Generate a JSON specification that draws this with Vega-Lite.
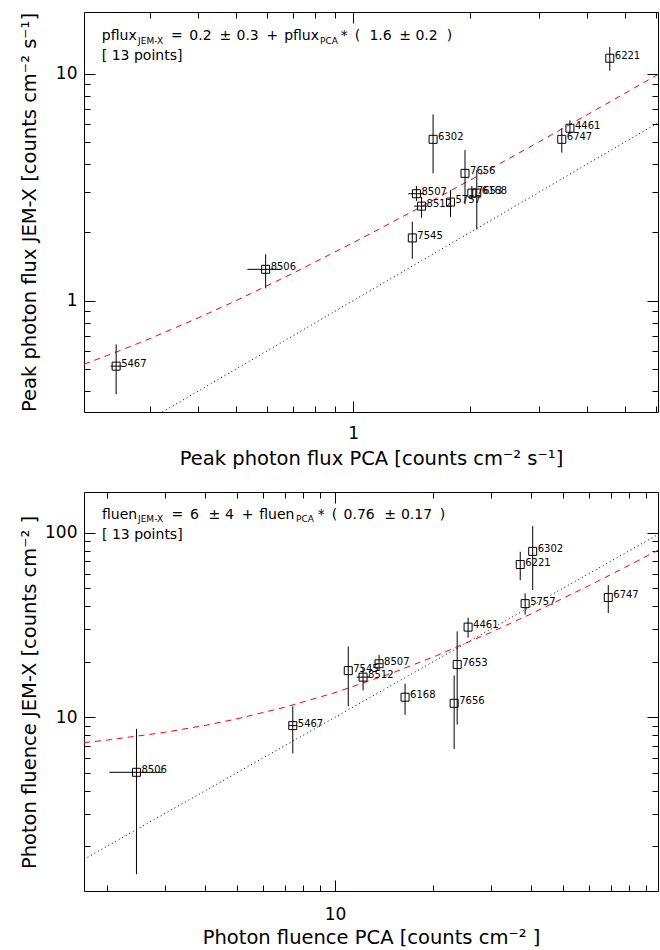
{
  "$schema": "https://vega.github.io/schema/vega-lite/v6.json",
  "background": "white",
  "padding": {"left": 18, "top": 11, "right": 0, "bottom": 0},
  "bounds": "flush",
  "spacing": 80,
  "config": {
    "view": {"stroke": "black", "strokeWidth": 1},
    "font": "DejaVu Sans",
    "axis": {
      "domain": false, "grid": false, "labelOverlap": false, "labelFlush": false,
      "tickColor": "black", "tickWidth": 1, "labelColor": "black", "titleColor": "black",
      "labelFont": "DejaVu Sans", "titleFont": "DejaVu Sans", "labelFontSize": 17,
      "titleFontSize": 19.5, "titleFontWeight": "normal"
    }
  },
  "datasets": {
    "pflux": [
      {"obs": "5467", "x": 0.246, "y": 0.515, "xlo": 0.238, "xhi": 0.255, "ylo": 0.387, "yhi": 0.642},
      {"obs": "8506", "x": 0.596, "y": 1.375, "xlo": 0.535, "xhi": 0.652, "ylo": 1.134, "yhi": 1.6},
      {"obs": "7545", "x": 1.42, "y": 1.89, "xlo": null, "xhi": null, "ylo": 1.53, "yhi": 2.23},
      {"obs": "8507", "x": 1.455, "y": 2.96, "xlo": 1.387, "xhi": 1.522, "ylo": 2.75, "yhi": 3.2},
      {"obs": "8512", "x": 1.5, "y": 2.61, "xlo": 1.435, "xhi": 1.552, "ylo": 2.32, "yhi": 2.87},
      {"obs": "5757", "x": 1.78, "y": 2.72, "xlo": null, "xhi": null, "ylo": 2.34, "yhi": 3.07},
      {"obs": "6302", "x": 1.606, "y": 5.14, "xlo": null, "xhi": null, "ylo": 3.64, "yhi": 6.62},
      {"obs": "7656", "x": 1.94, "y": 3.64, "xlo": null, "xhi": null, "ylo": 2.66, "yhi": 4.61},
      {"obs": "7653", "x": 2.02, "y": 2.98, "xlo": null, "xhi": null, "ylo": 2.8, "yhi": 3.2},
      {"obs": "6168", "x": 2.08, "y": 2.98, "xlo": null, "xhi": null, "ylo": 2.06, "yhi": 3.76},
      {"obs": "4461", "x": 3.61, "y": 5.75, "xlo": null, "xhi": null, "ylo": 5.41, "yhi": 6.23},
      {"obs": "6747", "x": 3.44, "y": 5.14, "xlo": null, "xhi": null, "ylo": 4.49, "yhi": 5.75},
      {"obs": "6221", "x": 4.57, "y": 11.7, "xlo": null, "xhi": null, "ylo": 10.3, "yhi": 13.1}
    ],
    "pflux_fit": [
      {"x": 0.2034, "y": 0.525}, {"x": 0.25, "y": 0.6}, {"x": 0.3, "y": 0.68}, {"x": 0.4, "y": 0.84},
      {"x": 0.5, "y": 1.0}, {"x": 0.7, "y": 1.32}, {"x": 1, "y": 1.8}, {"x": 1.4, "y": 2.44},
      {"x": 2, "y": 3.4}, {"x": 3, "y": 5.0}, {"x": 4, "y": 6.6}, {"x": 5, "y": 8.2}, {"x": 6.08, "y": 9.93}
    ],
    "pflux_one": [{"x": 0.3234, "y": 0.3234}, {"x": 6.08, "y": 6.08}],
    "pflux_eq": [
      {"t": "pflux", "x": 0.226, "y": 14.66},
      {"t": "=", "x": 0.3402, "y": 14.66},
      {"t": "0.2", "x": 0.3795, "y": 14.66},
      {"t": "±", "x": 0.4534, "y": 14.66},
      {"t": "0.3", "x": 0.5016, "y": 14.66},
      {"t": "+", "x": 0.5993, "y": 14.66},
      {"t": "pflux", "x": 0.665, "y": 14.66},
      {"t": "*", "x": 0.9303, "y": 14.66},
      {"t": "(", "x": 1.0101, "y": 14.66},
      {"t": "1.6", "x": 1.1019, "y": 14.66},
      {"t": "±", "x": 1.315, "y": 14.66},
      {"t": "0.2", "x": 1.4468, "y": 14.66},
      {"t": ")", "x": 1.7402, "y": 14.66},
      {"t": "[ 13 points]", "x": 0.226, "y": 11.97}
    ],
    "pflux_sub": [
      {"t": "JEM-X", "x": 0.2801, "y": 13.93},
      {"t": "PCA", "x": 0.8227, "y": 13.93}
    ],
    "fluen": [
      {"obs": "8506", "x": 2.46, "y": 5.03, "xlo": 2.03, "xhi": 2.95, "ylo": 1.41, "yhi": 8.65},
      {"obs": "5467", "x": 7.42, "y": 9.01, "xlo": 7.22, "xhi": 7.66, "ylo": 6.37, "yhi": 11.47},
      {"obs": "7545", "x": 10.98, "y": 17.9, "xlo": null, "xhi": null, "ylo": 11.47, "yhi": 24.2},
      {"obs": "8512", "x": 12.19, "y": 16.5, "xlo": 11.65, "xhi": 12.78, "ylo": 13.97, "yhi": 18.5},
      {"obs": "8507", "x": 13.65, "y": 19.5, "xlo": 13.3, "xhi": 14.0, "ylo": 17.9, "yhi": 21.8},
      {"obs": "6168", "x": 16.4, "y": 12.84, "xlo": null, "xhi": null, "ylo": 10.3, "yhi": 15.2},
      {"obs": "7656", "x": 23.2, "y": 11.9, "xlo": null, "xhi": null, "ylo": 6.73, "yhi": 16.85},
      {"obs": "7653", "x": 23.7, "y": 19.3, "xlo": null, "xhi": null, "ylo": 9.13, "yhi": 29.2},
      {"obs": "4461", "x": 25.6, "y": 30.8, "xlo": null, "xhi": null, "ylo": 27.0, "yhi": 34.7},
      {"obs": "5757", "x": 38.3, "y": 41.3, "xlo": null, "xhi": null, "ylo": 36.0, "yhi": 46.9},
      {"obs": "6221", "x": 37.0, "y": 67.3, "xlo": null, "xhi": null, "ylo": 55.3, "yhi": 78.9},
      {"obs": "6302", "x": 40.4, "y": 79.3, "xlo": null, "xhi": null, "ylo": 48.9, "yhi": 108.7},
      {"obs": "6747", "x": 68.9, "y": 44.6, "xlo": null, "xhi": null, "ylo": 36.7, "yhi": 52.0}
    ],
    "fluen_fit": [
      {"x": 1.698, "y": 7.29}, {"x": 2, "y": 7.52}, {"x": 3, "y": 8.28}, {"x": 4, "y": 9.04},
      {"x": 5, "y": 9.8}, {"x": 7, "y": 11.32}, {"x": 10, "y": 13.6}, {"x": 15, "y": 17.4},
      {"x": 20, "y": 21.2}, {"x": 30, "y": 28.8}, {"x": 40, "y": 36.4}, {"x": 60, "y": 51.6},
      {"x": 80, "y": 66.8}, {"x": 97.9, "y": 80.4}
    ],
    "fluen_one": [{"x": 1.698, "y": 1.698}, {"x": 97.9, "y": 97.9}],
    "fluen_eq": [
      {"t": "fluen", "x": 1.928, "y": 124.8},
      {"t": "=", "x": 3.151, "y": 124.8},
      {"t": "6", "x": 3.592, "y": 124.8},
      {"t": "±", "x": 4.093, "y": 124.8},
      {"t": "4", "x": 4.601, "y": 124.8},
      {"t": "+", "x": 5.177, "y": 124.8},
      {"t": "fluen", "x": 5.854, "y": 124.8},
      {"t": "*", "x": 8.844, "y": 124.8},
      {"t": "(", "x": 9.77, "y": 124.8},
      {"t": "0.76", "x": 10.62, "y": 124.8},
      {"t": "±", "x": 14.16, "y": 124.8},
      {"t": "0.17", "x": 15.93, "y": 124.8},
      {"t": ")", "x": 20.96, "y": 124.8},
      {"t": "[ 13 points]", "x": 1.928, "y": 97.2}
    ],
    "fluen_sub": [
      {"t": "JEM-X", "x": 2.487, "y": 118.3},
      {"t": "PCA", "x": 7.594, "y": 118.3}
    ]
  },
  "vconcat": [
    {
      "width": 574,
      "height": 400,
      "resolve": {"axis": {"x": "independent", "y": "independent"}},
      "layer": [
        {
          "data": {"name": "pflux_one"},
          "mark": {"type": "line", "color": "black", "strokeDash": [1, 3], "strokeWidth": 1, "clip": true},
          "encoding": {
            "x": {"field": "x", "type": "quantitative", "scale": {"type": "log", "domain": [0.2034, 6.08], "nice": false},
              "axis": {"orient": "top", "values": [0.3, 0.4, 0.5, 0.6, 0.7, 0.8, 0.9, 1, 2, 3, 4, 5, 6], "labels": false, "title": null,
                "tickSize": {"condition": {"test": "datum.value == 1", "value": -11}, "value": -6}}},
            "y": {"field": "y", "type": "quantitative", "scale": {"type": "log", "domain": [0.3234, 18.7], "nice": false},
              "axis": {"orient": "right", "values": [0.4, 0.5, 0.6, 0.7, 0.8, 0.9, 1, 2, 3, 4, 5, 6, 7, 8, 9, 10], "labels": false, "title": null,
                "tickSize": {"condition": {"test": "datum.value == 1 || datum.value == 10", "value": -11}, "value": -6}}}
          }
        },
        {
          "data": {"name": "pflux_fit"},
          "mark": {"type": "line", "color": "#ff0000", "strokeDash": [6, 5], "strokeWidth": 1, "clip": true},
          "encoding": {
            "x": {"field": "x", "type": "quantitative", "scale": {"type": "log", "domain": [0.2034, 6.08], "nice": false}, "axis": null},
            "y": {"field": "y", "type": "quantitative", "scale": {"type": "log", "domain": [0.3234, 18.7], "nice": false}, "axis": null}
          }
        },
        {
          "data": {"name": "pflux"},
          "mark": {"type": "rule", "color": "black", "strokeWidth": 1},
          "encoding": {
            "x": {"field": "x", "type": "quantitative", "scale": {"type": "log", "domain": [0.2034, 6.08], "nice": false}, "axis": null},
            "y": {"field": "ylo", "type": "quantitative", "scale": {"type": "log", "domain": [0.3234, 18.7], "nice": false}, "axis": null},
            "y2": {"field": "yhi"}
          }
        },
        {
          "data": {"name": "pflux"},
          "transform": [{"filter": "isValid(datum.xlo)"}],
          "mark": {"type": "rule", "color": "black", "strokeWidth": 1},
          "encoding": {
            "x": {"field": "xlo", "type": "quantitative", "scale": {"type": "log", "domain": [0.2034, 6.08], "nice": false}, "axis": null},
            "x2": {"field": "xhi"},
            "y": {"field": "y", "type": "quantitative", "scale": {"type": "log", "domain": [0.3234, 18.7], "nice": false}, "axis": null}
          }
        },
        {
          "data": {"name": "pflux"},
          "mark": {"type": "point", "shape": "square", "size": 64, "filled": false, "stroke": "black", "strokeWidth": 1, "opacity": 1},
          "encoding": {
            "x": {"field": "x", "type": "quantitative", "scale": {"type": "log", "domain": [0.2034, 6.08], "nice": false},
              "axis": {"orient": "bottom", "values": [0.3, 0.4, 0.5, 0.6, 0.7, 0.8, 0.9, 1, 2, 3, 4, 5, 6],
                "labelExpr": "datum.value == 1 ? '1' : ''", "labelBaseline": "alphabetic", "labelPadding": 37,
                "tickSize": {"condition": {"test": "datum.value == 1", "value": -11}, "value": -6},
                "title": "Peak photon flux PCA [counts cm⁻² s⁻¹]", "titleX": 287, "titleY": 52,
                "titleAlign": "center", "titleBaseline": "alphabetic"}},
            "y": {"field": "y", "type": "quantitative", "scale": {"type": "log", "domain": [0.3234, 18.7], "nice": false},
              "axis": {"orient": "left", "values": [0.4, 0.5, 0.6, 0.7, 0.8, 0.9, 1, 2, 3, 4, 5, 6, 7, 8, 9, 10],
                "labelExpr": "datum.value == 1 ? '1' : datum.value == 10 ? '10' : ''", "labelPadding": 18,
                "tickSize": {"condition": {"test": "datum.value == 1 || datum.value == 10", "value": -11}, "value": -6},
                "title": "Peak photon flux JEM-X [counts cm⁻² s⁻¹]", "titleX": -49, "titleY": 200,
                "titleAngle": -90, "titleAlign": "center", "titleBaseline": "alphabetic"}}
          }
        },
        {
          "data": {"name": "pflux"},
          "mark": {"type": "text", "align": "left", "baseline": "middle", "dx": 5, "dy": -2, "fontSize": 10, "color": "black"},
          "encoding": {
            "x": {"field": "x", "type": "quantitative", "scale": {"type": "log", "domain": [0.2034, 6.08], "nice": false}, "axis": null},
            "y": {"field": "y", "type": "quantitative", "scale": {"type": "log", "domain": [0.3234, 18.7], "nice": false}, "axis": null},
            "text": {"field": "obs"}
          }
        },
        {
          "data": {"name": "pflux_eq"},
          "mark": {"type": "text", "align": "left", "baseline": "middle", "fontSize": 14, "color": "black"},
          "encoding": {
            "x": {"field": "x", "type": "quantitative", "scale": {"type": "log", "domain": [0.2034, 6.08], "nice": false}, "axis": null},
            "y": {"field": "y", "type": "quantitative", "scale": {"type": "log", "domain": [0.3234, 18.7], "nice": false}, "axis": null},
            "text": {"field": "t"}
          }
        },
        {
          "data": {"name": "pflux_sub"},
          "mark": {"type": "text", "align": "left", "baseline": "middle", "fontSize": 9, "color": "black"},
          "encoding": {
            "x": {"field": "x", "type": "quantitative", "scale": {"type": "log", "domain": [0.2034, 6.08], "nice": false}, "axis": null},
            "y": {"field": "y", "type": "quantitative", "scale": {"type": "log", "domain": [0.3234, 18.7], "nice": false}, "axis": null},
            "text": {"field": "t"}
          }
        }
      ]
    },
    {
      "width": 574,
      "height": 399,
      "resolve": {"axis": {"x": "independent", "y": "independent"}},
      "layer": [
        {
          "data": {"name": "fluen_one"},
          "mark": {"type": "line", "color": "black", "strokeDash": [1, 3], "strokeWidth": 1, "clip": true},
          "encoding": {
            "x": {"field": "x", "type": "quantitative", "scale": {"type": "log", "domain": [1.698, 97.9], "nice": false},
              "axis": {"orient": "top", "values": [2, 3, 4, 5, 6, 7, 8, 9, 10, 20, 30, 40, 50, 60, 70, 80, 90], "labels": false, "title": null,
                "tickSize": {"condition": {"test": "datum.value == 10", "value": -11}, "value": -6}}},
            "y": {"field": "y", "type": "quantitative", "scale": {"type": "log", "domain": [1.143, 166.4], "nice": false},
              "axis": {"orient": "right", "values": [2, 3, 4, 5, 6, 7, 8, 9, 10, 20, 30, 40, 50, 60, 70, 80, 90, 100], "labels": false, "title": null,
                "tickSize": {"condition": {"test": "datum.value == 10 || datum.value == 100", "value": -11}, "value": -6}}}
          }
        },
        {
          "data": {"name": "fluen_fit"},
          "mark": {"type": "line", "color": "#ff0000", "strokeDash": [6, 5], "strokeWidth": 1, "clip": true},
          "encoding": {
            "x": {"field": "x", "type": "quantitative", "scale": {"type": "log", "domain": [1.698, 97.9], "nice": false}, "axis": null},
            "y": {"field": "y", "type": "quantitative", "scale": {"type": "log", "domain": [1.143, 166.4], "nice": false}, "axis": null}
          }
        },
        {
          "data": {"name": "fluen"},
          "mark": {"type": "rule", "color": "black", "strokeWidth": 1},
          "encoding": {
            "x": {"field": "x", "type": "quantitative", "scale": {"type": "log", "domain": [1.698, 97.9], "nice": false}, "axis": null},
            "y": {"field": "ylo", "type": "quantitative", "scale": {"type": "log", "domain": [1.143, 166.4], "nice": false}, "axis": null},
            "y2": {"field": "yhi"}
          }
        },
        {
          "data": {"name": "fluen"},
          "transform": [{"filter": "isValid(datum.xlo)"}],
          "mark": {"type": "rule", "color": "black", "strokeWidth": 1},
          "encoding": {
            "x": {"field": "xlo", "type": "quantitative", "scale": {"type": "log", "domain": [1.698, 97.9], "nice": false}, "axis": null},
            "x2": {"field": "xhi"},
            "y": {"field": "y", "type": "quantitative", "scale": {"type": "log", "domain": [1.143, 166.4], "nice": false}, "axis": null}
          }
        },
        {
          "data": {"name": "fluen"},
          "mark": {"type": "point", "shape": "square", "size": 64, "filled": false, "stroke": "black", "strokeWidth": 1, "opacity": 1},
          "encoding": {
            "x": {"field": "x", "type": "quantitative", "scale": {"type": "log", "domain": [1.698, 97.9], "nice": false},
              "axis": {"orient": "bottom", "values": [2, 3, 4, 5, 6, 7, 8, 9, 10, 20, 30, 40, 50, 60, 70, 80, 90],
                "labelExpr": "datum.value == 10 ? '10' : ''", "labelBaseline": "alphabetic", "labelPadding": 39,
                "tickSize": {"condition": {"test": "datum.value == 10", "value": -11}, "value": -6},
                "title": "Photon fluence PCA [counts cm⁻² ]", "titleX": 287, "titleY": 52,
                "titleAlign": "center", "titleBaseline": "alphabetic"}},
            "y": {"field": "y", "type": "quantitative", "scale": {"type": "log", "domain": [1.143, 166.4], "nice": false},
              "axis": {"orient": "left", "values": [2, 3, 4, 5, 6, 7, 8, 9, 10, 20, 30, 40, 50, 60, 70, 80, 90, 100],
                "labelExpr": "datum.value == 10 ? '10' : datum.value == 100 ? '100' : ''", "labelPadding": 18,
                "tickSize": {"condition": {"test": "datum.value == 10 || datum.value == 100", "value": -11}, "value": -6},
                "title": "Photon fluence JEM-X [counts cm⁻² ]", "titleX": -49, "titleY": 200,
                "titleAngle": -90, "titleAlign": "center", "titleBaseline": "alphabetic"}}
          }
        },
        {
          "data": {"name": "fluen"},
          "mark": {"type": "text", "align": "left", "baseline": "middle", "dx": 5, "dy": -2, "fontSize": 10, "color": "black"},
          "encoding": {
            "x": {"field": "x", "type": "quantitative", "scale": {"type": "log", "domain": [1.698, 97.9], "nice": false}, "axis": null},
            "y": {"field": "y", "type": "quantitative", "scale": {"type": "log", "domain": [1.143, 166.4], "nice": false}, "axis": null},
            "text": {"field": "obs"}
          }
        },
        {
          "data": {"name": "fluen_eq"},
          "mark": {"type": "text", "align": "left", "baseline": "middle", "fontSize": 14, "color": "black"},
          "encoding": {
            "x": {"field": "x", "type": "quantitative", "scale": {"type": "log", "domain": [1.698, 97.9], "nice": false}, "axis": null},
            "y": {"field": "y", "type": "quantitative", "scale": {"type": "log", "domain": [1.143, 166.4], "nice": false}, "axis": null},
            "text": {"field": "t"}
          }
        },
        {
          "data": {"name": "fluen_sub"},
          "mark": {"type": "text", "align": "left", "baseline": "middle", "fontSize": 9, "color": "black"},
          "encoding": {
            "x": {"field": "x", "type": "quantitative", "scale": {"type": "log", "domain": [1.698, 97.9], "nice": false}, "axis": null},
            "y": {"field": "y", "type": "quantitative", "scale": {"type": "log", "domain": [1.143, 166.4], "nice": false}, "axis": null},
            "text": {"field": "t"}
          }
        }
      ]
    }
  ]
}
